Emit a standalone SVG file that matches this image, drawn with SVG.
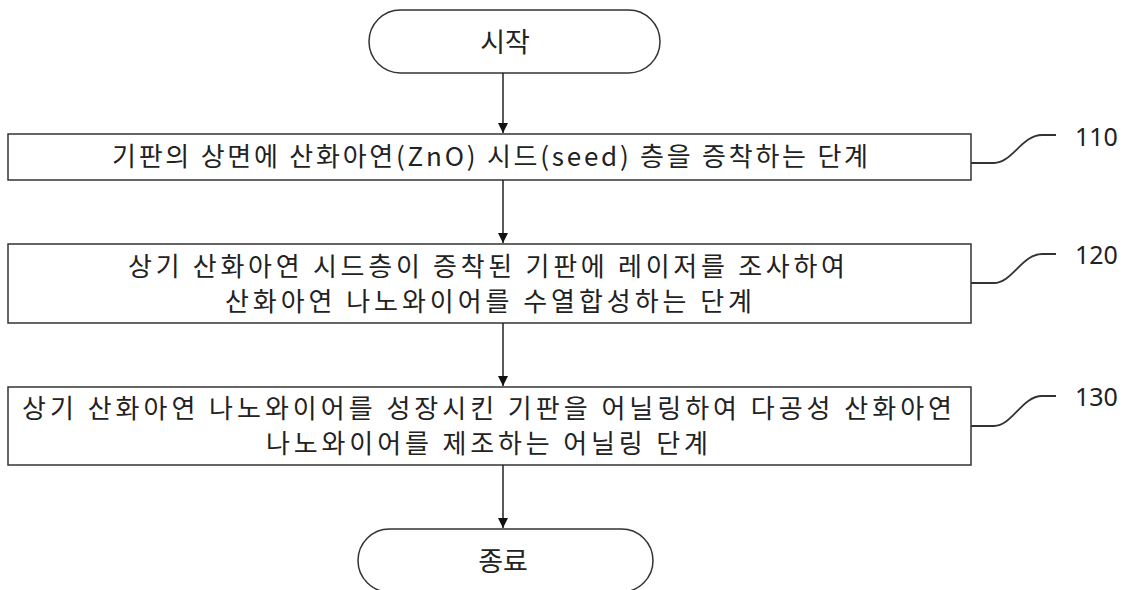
<svg xmlns="http://www.w3.org/2000/svg" width="1128" height="590" viewBox="0 0 1128 590">
<style>
.shape{fill:#fff;stroke:#333;stroke-width:1.5}
.txt{font-family:"Noto Sans CJK KR","Noto Sans",sans-serif;font-size:26px;fill:#222}
.term{font-family:"Noto Sans CJK KR","Noto Sans",sans-serif;font-size:27px;fill:#222;text-anchor:middle}
.num{font-family:"Noto Sans","Noto Sans CJK KR",sans-serif;font-size:25px;fill:#222}
.conn{fill:none;stroke:#222;stroke-width:1.5}
.lead{fill:none;stroke:#333;stroke-width:1.8}
</style>
<defs>
<marker id="ah" markerWidth="10" markerHeight="12" refX="10" refY="5" orient="auto" markerUnits="userSpaceOnUse">
<path d="M0,0 L10,5 L0,10 Z" fill="#111"/>
</marker>
</defs>
<rect width="1128" height="590" fill="#fff"/>
<g id="start">
<rect class="shape" x="369" y="10" width="291" height="63" rx="31.5"/>
<text class="term" x="505" y="52">시작</text>
</g>
<g id="step110">
<rect class="shape" x="8" y="134" width="963" height="46"/>
<text class="txt" x="112" y="166" textLength="756" lengthAdjust="spacing">기판의 상면에 산화아연(ZnO) 시드(seed) 층을 증착하는 단계</text>
</g>
<g id="step120">
<rect class="shape" x="8" y="244" width="963" height="79"/>
<text class="txt" x="128" y="276" textLength="717" lengthAdjust="spacing">상기 산화아연 시드층이 증착된 기판에 레이저를 조사하여</text>
<text class="txt" x="225" y="311" textLength="527" lengthAdjust="spacing">산화아연 나노와이어를 수열합성하는 단계</text>
</g>
<g id="step130">
<rect class="shape" x="8" y="387" width="963" height="78"/>
<text class="txt" x="22" y="418" textLength="930" lengthAdjust="spacing">상기 산화아연 나노와이어를 성장시킨 기판을 어닐링하여 다공성 산화아연</text>
<text class="txt" x="266" y="453" textLength="442" lengthAdjust="spacing">나노와이어를 제조하는 어닐링 단계</text>
</g>
<g id="end">
<rect class="shape" x="358" y="529" width="295" height="63" rx="31.5"/>
<text class="term" x="503" y="571">종료</text>
</g>
<g id="labels">
<path class="lead" d="M971,163 H994 C1012,163 1022,135 1042,135 H1056"/>
<text class="num" x="1075" y="146">110</text>
<path class="lead" d="M971,283 H994 C1012,283 1022,254 1042,254 H1056"/>
<text class="num" x="1075" y="264">120</text>
<path class="lead" d="M971,426 H994 C1012,426 1022,396 1042,396 H1056"/>
<text class="num" x="1075" y="406">130</text>
</g>
<g id="connectors">
<line class="conn" x1="503" y1="73" x2="503" y2="133" marker-end="url(#ah)"/>
<line class="conn" x1="503" y1="180" x2="503" y2="243" marker-end="url(#ah)"/>
<line class="conn" x1="503" y1="323" x2="503" y2="386" marker-end="url(#ah)"/>
<line class="conn" x1="503" y1="465" x2="503" y2="528" marker-end="url(#ah)"/>
</g>
</svg>
